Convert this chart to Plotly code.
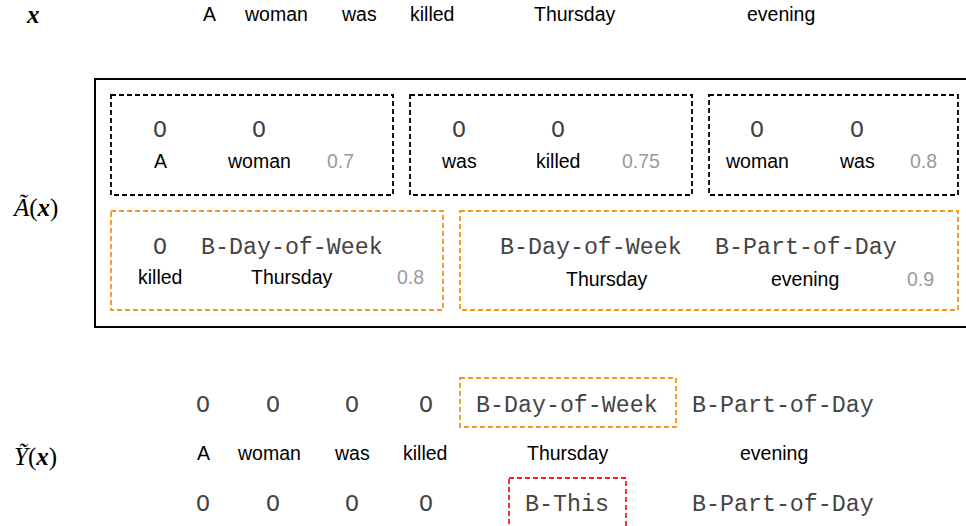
import plotly.graph_objects as go

# ---------------- data ----------------
tokens = ["A", "woman", "was", "killed", "Thursday", "evening"]
span_tokens = [["A", "woman"], ["was", "killed"], ["woman", "was"],
               ["killed", "Thursday"], ["Thursday", "evening"]]
span_labels = [["O", "O"], ["O", "O"], ["O", "O"],
               ["O", "B-Day-of-Week"], ["B-Day-of-Week", "B-Part-of-Day"]]
span_scores = [0.7, 0.75, 0.8, 0.8, 0.9]
gold_labels = ["O", "O", "O", "O", "B-Day-of-Week", "B-Part-of-Day"]
noisy_labels = ["O", "O", "O", "O", "B-This", "B-Part-of-Day"]
row_titles = ["<b><i>x</i></b>", "<i>Ã</i>(<b><i>x</i></b>)", "<i>Ỹ</i>(<b><i>x</i></b>)"]

# ---------------- layout (pixel positions) ----------------
W, H = 966, 526
top_x = [209, 276, 359, 432, 575, 781]
top_y = 14
bot_x_lab = [203, 273, 352, 426, 567, 783]
bot_x_tok = [203, 269, 352, 425, 568, 774]
bot_y = [405.5, 453, 504.5]
span_lab_x = [[160, 259], [459, 558], [757, 857], [160, 292], [591, 806]]
span_tok_x = [[160, 259], [459, 558], [757, 857], [160, 292], [607, 805]]
span_score_x = [340, 641, 923, 410, 920]
span_lab_y = [131, 131, 131, 248, 248]
span_tok_y = [161, 161, 161, 277, 279]
span_box = [(111, 393, 95, 195), (410, 692, 95, 195), (709, 958, 95, 195),
            (111, 443, 211, 310), (460, 958, 211, 310)]
span_color = ["black", "black", "black", "#f7941d", "#f7941d"]
title_pos = [(33, 14), (35, 208), (35, 457)]

SANS = "Liberation Sans, Arial, sans-serif"
MONO = "Liberation Mono, Courier New, monospace"
SERIF = "Liberation Serif, DejaVu Serif, serif"
SANS_SIZE = 19.5
MONO_SIZE = 23.3
MONO_COLOR = "#444444"
DASH = "5px,3px"
LW = 1.8

annotations = []
shapes = []


def txt(x, y, s, font, size, color="black"):
    annotations.append(dict(x=x, y=y, xref="x", yref="y", text=s, showarrow=False,
                            xanchor="center", yanchor="middle",
                            font=dict(family=font, size=size, color=color)))


# row titles
for (tx, ty), t in zip(title_pos, row_titles):
    txt(tx, ty, t, SERIF, 25)

# top sentence
for xx, t in zip(top_x, tokens):
    txt(xx, top_y, t, SANS, SANS_SIZE)

# outer box
shapes.append(dict(type="rect", xref="x", yref="y", x0=95, x1=990, y0=79, y1=327,
                   line=dict(color="black", width=2)))

# annotated spans
for i in range(len(span_tokens)):
    x0, x1, y0, y1 = span_box[i]
    shapes.append(dict(type="rect", xref="x", yref="y", x0=x0, x1=x1, y0=y0, y1=y1,
                       line=dict(color=span_color[i], width=LW, dash=DASH)))
    for lx, lab in zip(span_lab_x[i], span_labels[i]):
        txt(lx, span_lab_y[i], lab, MONO, MONO_SIZE, MONO_COLOR)
    for tx, tok in zip(span_tok_x[i], span_tokens[i]):
        txt(tx, span_tok_y[i], tok, SANS, SANS_SIZE)
    txt(span_score_x[i], span_tok_y[i], f"{span_scores[i]:g}", SANS, SANS_SIZE, "#9a9a9a")

# bottom: gold labels / tokens / noisy labels
for i in range(len(tokens)):
    txt(bot_x_lab[i], bot_y[0], gold_labels[i], MONO, MONO_SIZE, MONO_COLOR)
    txt(bot_x_tok[i], bot_y[1], tokens[i], SANS, SANS_SIZE)
    txt(bot_x_lab[i], bot_y[2], noisy_labels[i], MONO, MONO_SIZE, MONO_COLOR)

shapes.append(dict(type="rect", xref="x", yref="y", x0=460, x1=676, y0=378, y1=427,
                   line=dict(color="#f7941d", width=LW, dash=DASH)))
shapes.append(dict(type="rect", xref="x", yref="y", x0=509, x1=626, y0=478, y1=540,
                   line=dict(color="#f21d1d", width=LW, dash=DASH)))

fig = go.Figure()
fig.add_trace(go.Scatter(x=[], y=[], mode="markers", showlegend=False))
fig.update_layout(
    width=W, height=H, margin=dict(l=0, r=0, t=0, b=0),
    paper_bgcolor="white", plot_bgcolor="white",
    xaxis=dict(range=[0, W], visible=False, fixedrange=True),
    yaxis=dict(range=[H, 0], visible=False, fixedrange=True),
    annotations=annotations, shapes=shapes, showlegend=False,
)
fig.write_html("out.html", config={"displayModeBar": False},
               post_script="document.body.style.margin='0px';document.body.style.overflow='hidden';")
